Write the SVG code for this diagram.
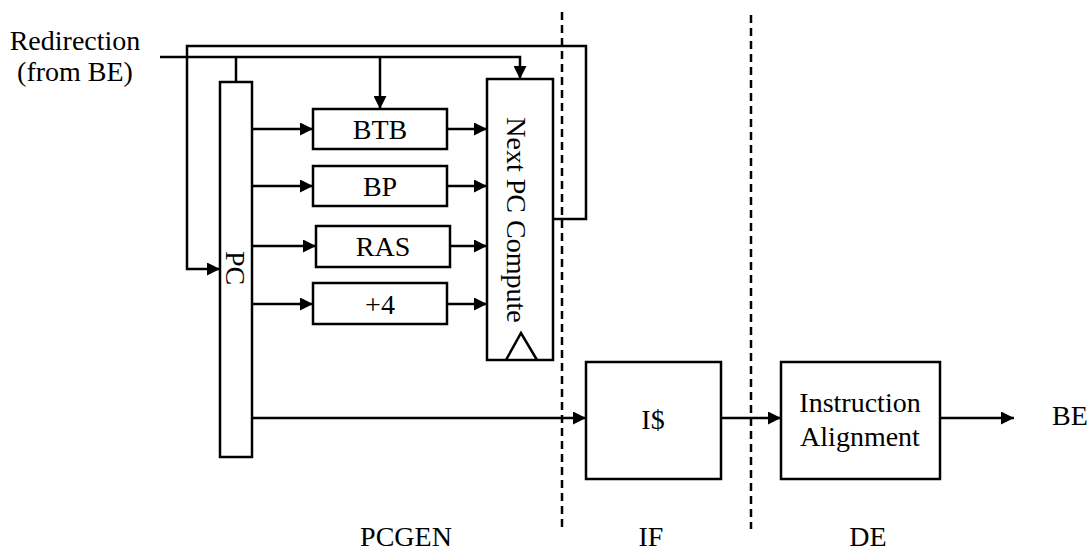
<svg xmlns="http://www.w3.org/2000/svg" width="1089" height="551" viewBox="0 0 1089 551">
<defs>
<marker id="arr" viewBox="0 0 13 13" refX="13" refY="6.5" markerWidth="13" markerHeight="13" markerUnits="userSpaceOnUse" orient="auto"><path d="M0,0 L13,6.5 L0,13 z" fill="#000"/></marker>
<style>
.box{fill:#fff;stroke:#000;stroke-width:2.5}
.ln{fill:none;stroke:#000;stroke-width:2.5}
.ar{fill:none;stroke:#000;stroke-width:2.5;marker-end:url(#arr)}
.dash{fill:none;stroke:#000;stroke-width:2.5;stroke-dasharray:8 5}
.t{font-family:'Liberation Serif','Times New Roman',Tinos,'DejaVu Serif',serif;font-size:28px;fill:#000;text-anchor:middle}
</style>
</defs>
<rect width="1089" height="551" fill="#fff"/>
<g id="stage-lines">
<line class="dash" x1="562" y1="12" x2="562" y2="529"/>
<line class="dash" x1="751" y1="15" x2="751" y2="529"/>
</g>
<g id="connectors">
<polyline class="ar" points="160,57 520,57 520,79"/>
<line class="ln" x1="236" y1="57" x2="236" y2="82"/>
<line class="ar" x1="380" y1="57" x2="380" y2="109"/>
<polyline class="ar" points="553,219 586,219 586,46 187,46 187,269 220,269"/>
<line class="ar" x1="252" y1="129" x2="313" y2="129"/>
<line class="ar" x1="252" y1="186" x2="313" y2="186"/>
<line class="ar" x1="252" y1="246" x2="316" y2="246"/>
<line class="ar" x1="252" y1="304" x2="313" y2="304"/>
<line class="ar" x1="447" y1="129" x2="487" y2="129"/>
<line class="ar" x1="447" y1="186" x2="487" y2="186"/>
<line class="ar" x1="450" y1="246" x2="487" y2="246"/>
<line class="ar" x1="447" y1="304" x2="487" y2="304"/>
<line class="ar" x1="252" y1="418" x2="586" y2="418"/>
<line class="ar" x1="721" y1="418" x2="781" y2="418"/>
<line class="ar" x1="940" y1="418" x2="1014" y2="418"/>
</g>
<g id="redirection-label">
<text class="t" x="75" y="50">Redirection</text>
<text class="t" x="75" y="81">(from BE)</text>
</g>
<g id="pc">
<rect class="box" x="220" y="82" width="32" height="375"/>
<text class="t" transform="translate(226,268) rotate(90)">PC</text>
</g>
<g id="btb">
<rect class="box" x="313" y="109" width="134" height="40"/>
<text class="t" x="380" y="139">BTB</text>
</g>
<g id="bp">
<rect class="box" x="313" y="166" width="134" height="40"/>
<text class="t" x="380" y="196">BP</text>
</g>
<g id="ras">
<rect class="box" x="316" y="226" width="134" height="41"/>
<text class="t" x="383" y="256">RAS</text>
</g>
<g id="plus4">
<rect class="box" x="313" y="283" width="134" height="41"/>
<text class="t" x="380" y="314">+4</text>
</g>
<g id="nextpc">
<rect class="box" x="487" y="79" width="66" height="281"/>
<text class="t" transform="translate(507,220) rotate(90)">Next PC Compute</text>
<polyline class="ln" points="506,360 521,333 537,360"/>
</g>
<g id="icache">
<rect class="box" x="586" y="362" width="135" height="117"/>
<text class="t" x="653" y="429">I$</text>
</g>
<g id="align">
<rect class="box" x="781" y="362" width="159" height="117"/>
<text class="t" x="860" y="412">Instruction</text>
<text class="t" x="860" y="446">Alignment</text>
</g>
<g id="be-label">
<text class="t" x="1070" y="425">BE</text>
</g>
<g id="stage-labels">
<text class="t" x="406" y="546">PCGEN</text>
<text class="t" x="651" y="546">IF</text>
<text class="t" x="868" y="546">DE</text>
</g>
</svg>
